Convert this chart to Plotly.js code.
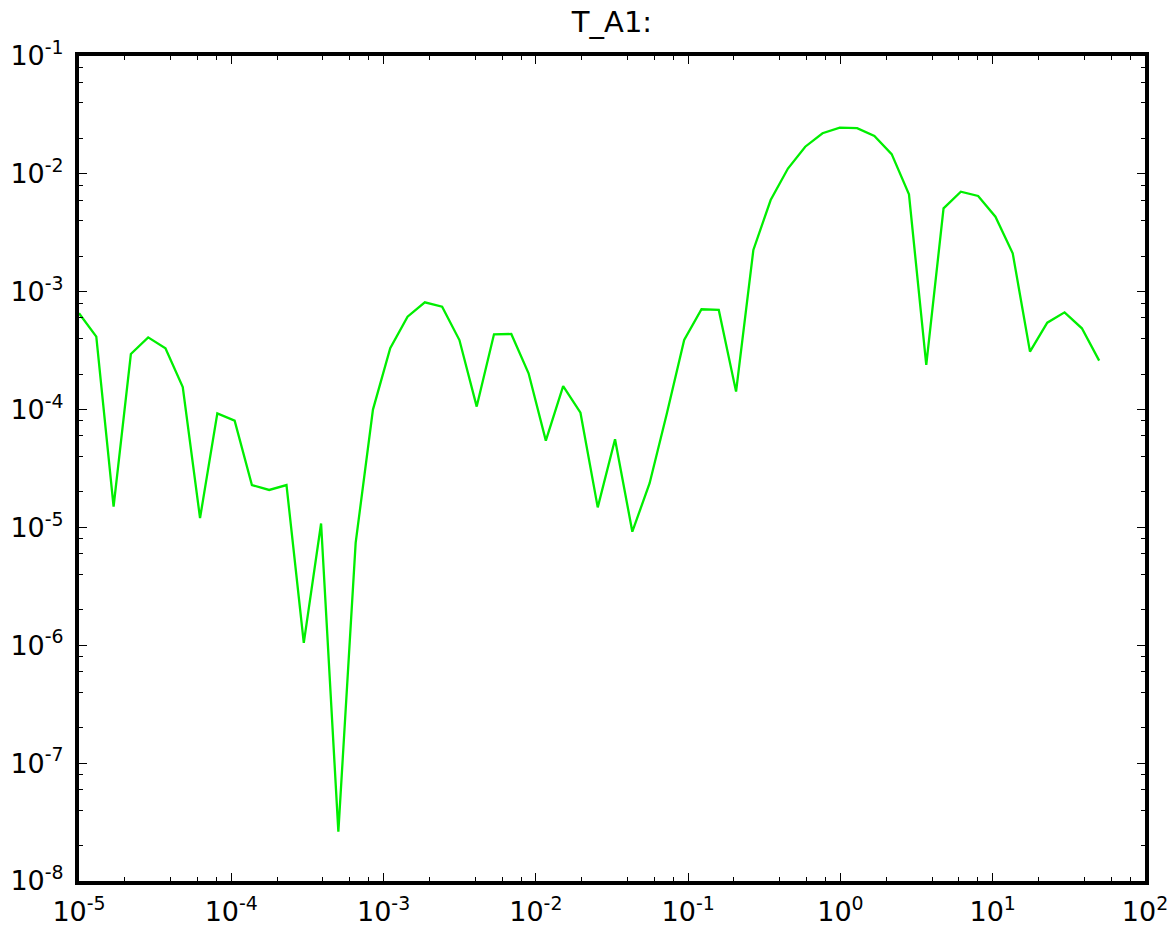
<!DOCTYPE html>
<html>
<head>
<meta charset="utf-8">
<script src="https://cdn.plot.ly/plotly-3.0.1.min.js"></script>
<style>html,body{margin:0;padding:0;background:#fff;}#chart{width:1172px;height:926px;}</style>
</head>
<body>
<div id="chart"></div>
<script>
// Frequencies (x)
const xValues = [
  1.000e-5, 1.299e-5, 1.687e-5, 2.191e-5, 2.846e-5, 3.696e-5, 4.801e-5, 6.235e-5, 8.098e-5, 1.052e-4,
  1.366e-4, 1.774e-4, 2.304e-4, 2.993e-4, 3.887e-4, 5.048e-4, 6.557e-4, 8.516e-4, 1.106e-3, 1.437e-3,
  1.866e-3, 2.424e-3, 3.148e-3, 4.088e-3, 5.310e-3, 6.897e-3, 8.958e-3, 1.163e-2, 1.511e-2, 1.963e-2,
  2.549e-2, 3.311e-2, 4.300e-2, 5.585e-2, 7.254e-2, 9.419e-2, 0.1224, 0.1589, 0.2064, 0.2681,
  0.3482, 0.4522, 0.5873, 0.7628, 0.9906, 1.287, 1.671, 2.170, 2.819, 3.661,
  4.755, 6.175, 8.021, 10.42, 13.53, 17.57, 22.82, 29.64, 38.50, 50.00
];
// T_A1 series values (y)
const yValues = [
  6.56e-4, 4.16e-4, 1.50e-5, 2.96e-4, 4.10e-4, 3.31e-4, 1.55e-4, 1.20e-5, 9.29e-5, 8.05e-5,
  2.29e-5, 2.08e-5, 2.29e-5, 1.05e-6, 1.08e-5, 2.62e-8, 7.4e-6, 1.0e-4, 3.31e-4, 6.14e-4,
  8.13e-4, 7.46e-4, 3.89e-4, 1.06e-4, 4.35e-4, 4.38e-4, 2.03e-4, 5.45e-5, 1.58e-4, 9.41e-5,
  1.48e-5, 5.60e-5, 9.2e-6, 2.37e-5, 9.3e-5, 3.89e-4, 7.10e-4, 7.0e-4, 1.42e-4, 2.26e-3,
  6.00e-3, 1.11e-2, 1.70e-2, 2.21e-2, 2.47e-2, 2.44e-2, 2.10e-2, 1.47e-2, 6.71e-3, 2.39e-4,
  5.10e-3, 7.06e-3, 6.49e-3, 4.33e-3, 2.12e-3, 3.10e-4, 5.46e-4, 6.68e-4, 4.89e-4, 2.60e-4
];
// Tick labels
const xTickExps = [-5, -4, -3, -2, -1, 0, 1, 2];
const yTickExps = [-8, -7, -6, -5, -4, -3, -2, -1];
const minorSubs = [2, 4, 6, 8];
const titleText = 'T_A1:';

function majorVals(exps) { return exps.map(e => Math.pow(10, e)); }
function majorText(exps) { return exps.map(e => '10<sup>' + (e < 0 ? '-' + (-e) : e) + '</sup>'); }
function minorVals(exps) {
  const out = [];
  exps.slice(0, -1).forEach(e => minorSubs.forEach(s => out.push(s * Math.pow(10, e))));
  return out;
}

const font = {family: 'DejaVu Sans, Bitstream Vera Sans, sans-serif', color: '#000'};

function axis(exps) {
  return {
    type: 'log',
    range: [exps[0], exps[exps.length - 1]],
    tickmode: 'array',
    tickvals: majorVals(exps),
    ticktext: majorText(exps),
    ticks: 'inside',
    ticklen: 8,
    tickwidth: 1,
    tickcolor: '#000',
    showline: true,
    linewidth: 4,
    linecolor: '#000',
    mirror: 'allticks',
    showgrid: false,
    zeroline: false,
    tickfont: Object.assign({size: 27}, font),
    minor: {
      tickmode: 'array',
      tickvals: minorVals(exps),
      ticks: 'inside',
      ticklen: 4,
      tickwidth: 1,
      tickcolor: '#000',
      showgrid: false
    }
  };
}

const trace = {
  x: xValues,
  y: yValues,
  type: 'scatter',
  mode: 'lines',
  line: {color: '#00ee00', width: 2.3},
  hoverinfo: 'x+y'
};

const xa = axis(xTickExps);
xa.ticklabelstandoff = 4;
const ya = axis(yTickExps);
ya.ticklabelstandoff = 6;

const layout = {
  width: 1172,
  height: 926,
  margin: {l: 79, r: 27, t: 56, b: 45},
  paper_bgcolor: '#fff',
  plot_bgcolor: '#fff',
  showlegend: false,
  title: {
    text: titleText,
    font: Object.assign({size: 29}, font),
    x: 0.5,
    xref: 'paper',
    xanchor: 'center',
    y: 1 - 22 / 926,
    yref: 'container',
    yanchor: 'middle'
  },
  xaxis: xa,
  yaxis: ya
};

Plotly.newPlot('chart', [trace], layout, {displayModeBar: false, staticPlot: true});
</script>
</body>
</html>
